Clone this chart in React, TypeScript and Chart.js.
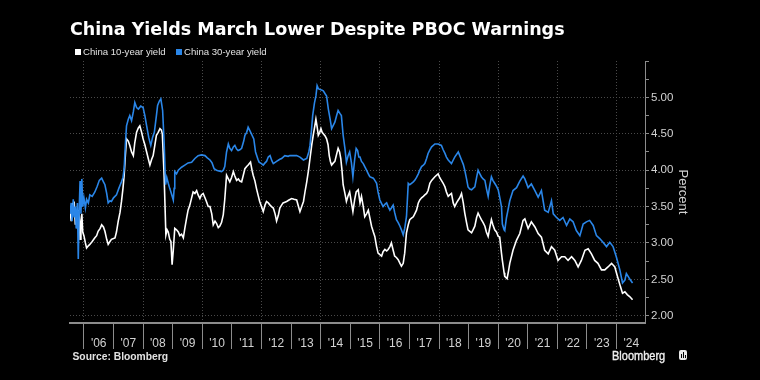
import React, { useEffect, useRef } from "react";
import { Chart, registerables } from "chart.js";

Chart.register(...registerables);

const TITLE = "China Yields March Lower Despite PBOC Warnings";
const SERIES_NAMES = ["China 10-year yield", "China 30-year yield"];
const SOURCE = "Source: Bloomberg";
const Y_AXIS_TITLE = "Percent";

const YEAR_TICKS = [2006, 2007, 2008, 2009, 2010, 2011, 2012, 2013, 2014, 2015, 2016, 2017, 2018, 2019, 2020, 2021, 2022, 2023, 2024];
const Y_TICKS = [2.0, 2.25, 2.5, 2.75, 3.0, 3.25, 3.5, 3.75, 4.0, 4.25, 4.5, 4.75, 5.0, 5.25, 5.5];
const Y_LABELED = [2.0, 2.5, 3.0, 3.5, 4.0, 4.5, 5.0];

const TEN_YEAR_DATES = [
  2005.53, 2005.57, 2005.60, 2005.64, 2005.67, 2005.71, 2005.74, 2005.78, 2005.81, 2005.84, 2005.87, 2005.90, 2005.93, 2005.96,
  2006.00, 2006.05, 2006.09, 2006.15, 2006.20, 2006.28, 2006.37, 2006.43, 2006.48, 2006.55, 2006.60, 2006.66, 2006.71, 2006.77, 2006.82, 2006.88, 2006.93,
  2007.00, 2007.05, 2007.10, 2007.16, 2007.22, 2007.27, 2007.32, 2007.36, 2007.40, 2007.44, 2007.50, 2007.55, 2007.61, 2007.67, 2007.72, 2007.78, 2007.84, 2007.89, 2007.95,
  2008.00, 2008.06, 2008.12, 2008.18, 2008.23, 2008.29, 2008.34, 2008.40, 2008.45, 2008.51, 2008.57, 2008.62, 2008.65, 2008.71, 2008.77, 2008.81, 2008.85, 2008.90, 2008.94, 2008.98,
  2009.02, 2009.07, 2009.13, 2009.19, 2009.24, 2009.30, 2009.36, 2009.41, 2009.47, 2009.52, 2009.58, 2009.64, 2009.69, 2009.75, 2009.81, 2009.86, 2009.92, 2009.97,
  2010.03, 2010.09, 2010.14, 2010.20, 2010.26, 2010.32, 2010.37, 2010.43, 2010.48, 2010.54, 2010.59, 2010.65, 2010.71, 2010.76, 2010.82, 2010.88, 2010.93, 2010.99,
  2011.05, 2011.10, 2011.16, 2011.22, 2011.27, 2011.33, 2011.38, 2011.44, 2011.50, 2011.55, 2011.63, 2011.68, 2011.72, 2011.78, 2011.83, 2011.89, 2011.94,
  2012.00, 2012.06, 2012.12, 2012.17, 2012.23, 2012.29, 2012.34, 2012.40, 2012.46, 2012.51, 2012.57, 2012.62, 2012.68, 2012.73, 2012.79, 2012.85, 2012.93,
  2013.02, 2013.10, 2013.19, 2013.25, 2013.30, 2013.36, 2013.42, 2013.47, 2013.53, 2013.59, 2013.64, 2013.70, 2013.75, 2013.80, 2013.84, 2013.88, 2013.92, 2013.97,
  2014.01, 2014.05, 2014.09, 2014.15, 2014.20, 2014.25, 2014.29, 2014.33, 2014.37, 2014.43, 2014.48, 2014.54, 2014.59, 2014.64, 2014.68, 2014.72, 2014.76, 2014.82, 2014.87, 2014.93, 2014.98,
  2015.04, 2015.09, 2015.15, 2015.20, 2015.27, 2015.33, 2015.38, 2015.44, 2015.49, 2015.55, 2015.61, 2015.66, 2015.72, 2015.78, 2015.83, 2015.89, 2015.94,
  2016.00, 2016.06, 2016.11, 2016.17, 2016.23, 2016.28, 2016.34, 2016.39, 2016.45, 2016.50, 2016.56, 2016.62, 2016.68, 2016.73, 2016.79, 2016.84, 2016.90, 2016.96,
  2017.01, 2017.07, 2017.13, 2017.18, 2017.24, 2017.30, 2017.35, 2017.41, 2017.47, 2017.52, 2017.58, 2017.63, 2017.69, 2017.75, 2017.86, 2017.97,
  2018.02, 2018.08, 2018.14, 2018.20, 2018.25, 2018.31, 2018.36, 2018.42, 2018.48, 2018.53, 2018.59, 2018.65, 2018.70, 2018.76, 2018.82, 2018.87, 2018.93, 2018.98,
  2019.04, 2019.10, 2019.15, 2019.21, 2019.27, 2019.32, 2019.38, 2019.43, 2019.49, 2019.55, 2019.60, 2019.66, 2019.71, 2019.77, 2019.82, 2019.88, 2019.94,
  2020.00, 2020.05, 2020.11, 2020.14, 2020.20, 2020.22, 2020.30, 2020.35, 2020.39, 2020.50, 2020.62, 2020.73, 2020.84, 2020.90,
  2021.01, 2021.12, 2021.24, 2021.35, 2021.46, 2021.57, 2021.69, 2021.80, 2021.91,
  2022.02, 2022.14, 2022.25, 2022.36, 2022.48, 2022.59, 2022.70, 2022.81, 2022.93,
  2023.04, 2023.15, 2023.26, 2023.37, 2023.49, 2023.60, 2023.71, 2023.83, 2023.94,
  2024.03, 2024.13, 2024.20, 2024.28, 2024.36, 2024.45, 2024.54,
];
const TEN_YEAR_VALUES = [
  3.45, 3.30, 3.55, 3.40, 3.57, 3.25, 3.35, 3.20, 3.45, 3.35, 3.05, 3.30, 3.40, 3.15,
  3.10, 3.00, 2.93, 2.96, 2.98, 3.02, 3.07, 3.10, 3.16, 3.20, 3.25, 3.22, 3.16, 3.05, 2.98, 3.02, 3.05,
  3.06, 3.07, 3.15, 3.30, 3.42, 3.57, 3.75, 3.93, 4.20, 4.43, 4.40, 4.34, 4.25, 4.20, 4.38, 4.52, 4.58, 4.61, 4.52,
  4.43, 4.35, 4.25, 4.15, 4.07, 4.15, 4.20, 4.35, 4.48, 4.52, 4.57, 4.55, 4.50, 3.93, 3.11, 3.18, 3.15, 3.05, 3.02, 2.70,
  2.90, 3.20, 3.18, 3.15, 3.10, 3.12, 3.07, 3.20, 3.34, 3.45, 3.52, 3.62, 3.70, 3.68, 3.72, 3.66, 3.61, 3.66,
  3.68, 3.62, 3.57, 3.50, 3.50, 3.40, 3.25, 3.30, 3.27, 3.21, 3.23, 3.28, 3.39, 3.60, 3.93, 3.88, 3.84, 3.90,
  3.98, 3.92, 3.86, 3.88, 3.85, 3.84, 3.92, 4.02, 4.05, 4.07, 4.11, 4.00, 3.93, 3.85, 3.75, 3.65, 3.57,
  3.50, 3.43, 3.52, 3.57, 3.55, 3.52, 3.50, 3.48, 3.40, 3.30, 3.38, 3.48, 3.52, 3.55, 3.56, 3.57, 3.59,
  3.61, 3.60, 3.59, 3.50, 3.43, 3.50, 3.57, 3.70, 3.84, 4.00, 4.16, 4.35, 4.48, 4.60, 4.70, 4.60, 4.48, 4.52,
  4.57, 4.52, 4.50, 4.47, 4.43, 4.35, 4.20, 4.12, 4.07, 4.10, 4.12, 4.22, 4.30, 4.25, 4.16, 4.00, 3.80, 3.68, 3.57, 3.65, 3.70,
  3.55, 3.43, 3.60, 3.70, 3.73, 3.55, 3.64, 3.50, 3.36, 3.40, 3.45, 3.35, 3.23, 3.15, 3.09, 2.95, 2.86,
  2.84, 2.82, 2.88, 2.91, 2.89, 2.91, 2.95, 3.00, 2.90, 2.82, 2.80, 2.77, 2.72, 2.68, 2.72, 2.86, 3.14, 3.25,
  3.32, 3.34, 3.36, 3.40, 3.45, 3.55, 3.59, 3.62, 3.64, 3.66, 3.68, 3.72, 3.82, 3.86, 3.91, 3.95,
  3.90, 3.86, 3.82, 3.77, 3.70, 3.64, 3.66, 3.68, 3.55, 3.50, 3.55, 3.59, 3.62, 3.68, 3.55, 3.41, 3.28, 3.18,
  3.16, 3.14, 3.18, 3.23, 3.35, 3.41, 3.36, 3.32, 3.28, 3.23, 3.15, 3.09, 3.20, 3.32, 3.25, 3.18, 3.15,
  3.09, 3.08, 2.86, 2.76, 2.59, 2.54, 2.51, 2.62, 2.72, 2.90, 3.04, 3.13, 3.31, 3.33,
  3.20, 3.29, 3.22, 3.13, 3.08, 2.90, 2.85, 2.95, 2.90,
  2.76, 2.81, 2.81, 2.76, 2.81, 2.76, 2.67, 2.76, 2.90,
  2.92, 2.85, 2.76, 2.72, 2.63, 2.63, 2.67, 2.72, 2.67,
  2.54, 2.40, 2.31, 2.33, 2.29, 2.26, 2.22,
];

const THIRTY_YEAR_DATES = [
  2005.53, 2005.57, 2005.60, 2005.64, 2005.67, 2005.71, 2005.74, 2005.78, 2005.81, 2005.84, 2005.87, 2005.90, 2005.93, 2005.96,
  2006.00, 2006.05, 2006.09, 2006.15, 2006.20, 2006.28, 2006.37, 2006.45, 2006.52, 2006.60, 2006.66, 2006.71, 2006.77, 2006.82, 2006.88, 2006.93,
  2007.00, 2007.10, 2007.18, 2007.27, 2007.32, 2007.36, 2007.40, 2007.44, 2007.50, 2007.55, 2007.61, 2007.67, 2007.72, 2007.78, 2007.84, 2007.92,
  2008.00, 2008.06, 2008.12, 2008.19, 2008.26, 2008.32, 2008.38, 2008.45, 2008.49, 2008.55, 2008.60, 2008.63, 2008.66, 2008.71, 2008.76, 2008.80, 2008.85, 2008.90, 2008.94,
  2009.02, 2009.05, 2009.07, 2009.13, 2009.19, 2009.30, 2009.41, 2009.52, 2009.64, 2009.75, 2009.86, 2009.97,
  2010.09, 2010.17, 2010.26, 2010.33, 2010.40, 2010.48, 2010.56, 2010.65, 2010.71, 2010.76, 2010.82, 2010.88, 2010.93, 2010.99,
  2011.05, 2011.10, 2011.16, 2011.21, 2011.27, 2011.33, 2011.40, 2011.44, 2011.50, 2011.55, 2011.60, 2011.66, 2011.74, 2011.80, 2011.88, 2011.92,
  2012.00, 2012.06, 2012.12, 2012.17, 2012.23, 2012.29, 2012.35, 2012.40, 2012.51, 2012.62, 2012.68, 2012.79, 2012.90, 2012.96,
  2013.07, 2013.19, 2013.30, 2013.42, 2013.47, 2013.53, 2013.60, 2013.64, 2013.69, 2013.73, 2013.79, 2013.84, 2013.88, 2013.92, 2013.97,
  2014.03, 2014.09, 2014.15, 2014.20, 2014.26, 2014.32, 2014.37, 2014.43, 2014.48, 2014.54, 2014.59, 2014.65, 2014.70, 2014.76, 2014.82, 2014.87, 2014.93, 2014.98,
  2015.04, 2015.09, 2015.15, 2015.20, 2015.25, 2015.29, 2015.33, 2015.38, 2015.44, 2015.49, 2015.55, 2015.61, 2015.66, 2015.72, 2015.78, 2015.83, 2015.89, 2015.94,
  2016.00, 2016.06, 2016.11, 2016.17, 2016.23, 2016.28, 2016.34, 2016.39, 2016.45, 2016.50, 2016.56, 2016.62, 2016.68, 2016.73, 2016.79, 2016.84, 2016.90, 2016.96,
  2017.01, 2017.07, 2017.13, 2017.18, 2017.24, 2017.30, 2017.35, 2017.41, 2017.47, 2017.52, 2017.58, 2017.63, 2017.69, 2017.75, 2017.86, 2017.97,
  2018.08, 2018.14, 2018.20, 2018.25, 2018.31, 2018.42, 2018.48, 2018.53, 2018.65, 2018.70, 2018.76, 2018.82, 2018.87, 2018.93, 2018.98,
  2019.04, 2019.10, 2019.15, 2019.21, 2019.27, 2019.32, 2019.38, 2019.43, 2019.49, 2019.55, 2019.60, 2019.66, 2019.71, 2019.77, 2019.82, 2019.88, 2019.94,
  2020.00, 2020.05, 2020.11, 2020.14, 2020.20, 2020.22, 2020.28, 2020.33, 2020.39, 2020.50, 2020.62, 2020.73, 2020.84, 2020.90,
  2021.01, 2021.12, 2021.24, 2021.35, 2021.46, 2021.57, 2021.69, 2021.80, 2021.86, 2021.97,
  2022.08, 2022.19, 2022.31, 2022.42, 2022.53, 2022.64, 2022.76, 2022.87, 2022.98,
  2023.09, 2023.21, 2023.32, 2023.43, 2023.54, 2023.66, 2023.77, 2023.88, 2023.99,
  2024.11, 2024.20, 2024.28, 2024.33, 2024.39, 2024.45, 2024.54,
];
const THIRTY_YEAR_VALUES = [
  3.40, 3.55, 3.30, 3.60, 3.35, 3.50, 3.20, 3.55, 2.78, 3.45, 3.85, 3.40, 3.88, 3.50,
  3.62, 3.48, 3.60, 3.55, 3.66, 3.64, 3.70, 3.78, 3.86, 3.89, 3.84, 3.80, 3.68, 3.55, 3.58, 3.57,
  3.62, 3.66, 3.75, 3.84, 3.90, 4.02, 4.35, 4.61, 4.70, 4.75, 4.68, 4.80, 4.93, 4.86, 4.84, 4.88,
  4.86, 4.75, 4.61, 4.45, 4.34, 4.45, 4.52, 4.75, 4.89, 4.95, 4.98, 4.90, 4.82, 4.39, 3.80, 3.90, 3.82, 3.75, 3.70,
  3.59, 3.75, 3.98, 3.95, 4.00, 4.04, 4.07, 4.10, 4.11, 4.16, 4.20, 4.21,
  4.20, 4.17, 4.14, 4.10, 4.02, 4.00, 3.99, 3.98, 4.00, 4.05, 4.25, 4.36, 4.30, 4.27,
  4.32, 4.34, 4.29, 4.27, 4.28, 4.30, 4.40, 4.48, 4.52, 4.59, 4.55, 4.50, 4.43, 4.25, 4.15, 4.11,
  4.09, 4.07, 4.10, 4.12, 4.18, 4.20, 4.13, 4.09, 4.12, 4.15, 4.16, 4.20, 4.19, 4.20,
  4.20, 4.20, 4.18, 4.14, 4.15, 4.16, 4.25, 4.34, 4.55, 4.75, 4.92, 5.02, 5.16, 5.12, 5.11,
  5.10, 5.09, 5.05, 5.02, 4.84, 4.70, 4.57, 4.62, 4.66, 4.75, 4.82, 4.78, 4.75, 4.48, 4.30, 4.11, 4.20, 4.25,
  4.10, 3.91, 4.15, 4.30, 4.27, 4.18, 4.18, 4.12, 4.09, 4.05, 4.00, 3.95, 3.91, 3.90, 3.89, 3.86, 3.82, 3.70,
  3.59, 3.54, 3.50, 3.53, 3.55, 3.50, 3.45, 3.48, 3.52, 3.42, 3.32, 3.28, 3.23, 3.18, 3.11, 3.20, 3.36, 3.82,
  3.80, 3.82, 3.84, 3.86, 3.90, 3.95, 4.00, 4.05, 4.07, 4.09, 4.16, 4.23, 4.28, 4.32, 4.36, 4.36,
  4.34, 4.28, 4.23, 4.18, 4.14, 4.09, 4.14, 4.18, 4.25, 4.20, 4.14, 4.08, 4.00, 3.88, 3.77,
  3.74, 3.73, 3.75, 3.77, 3.90, 4.00, 3.95, 3.91, 3.88, 3.86, 3.75, 3.64, 3.78, 3.91, 3.86, 3.82, 3.78,
  3.73, 3.63, 3.50, 3.26, 3.18, 3.17, 3.35, 3.45, 3.58, 3.72, 3.76, 3.85, 3.92, 3.88,
  3.76, 3.81, 3.72, 3.63, 3.72, 3.45, 3.42, 3.58, 3.40, 3.35,
  3.31, 3.35, 3.24, 3.33, 3.29, 3.17, 3.10, 3.26, 3.29,
  3.31, 3.24, 3.10, 3.06, 3.01, 2.95, 3.01, 2.95, 2.81,
  2.63, 2.45, 2.49, 2.58, 2.54, 2.50, 2.45,
];

const WHITE = "#ffffff";
const BLUE = "#2a86e8";
const GRID = "#4a4a4a";
const AXIS = "#8c8c8c";
const LABEL = "#d2d2d2";

function toPoints(xs: number[], ys: number[]) {
  return xs.map((x, i) => ({ x, y: ys[i] }));
}

export default function App() {
  const canvasRef = useRef<HTMLCanvasElement | null>(null);

  useEffect(() => {
    const canvas = canvasRef.current;
    if (!canvas) return;
    Chart.defaults.font.family = "'Liberation Sans', Arial, sans-serif";
    const chart = new Chart(canvas, {
      type: "line",
      data: {
        datasets: [
          {
            label: SERIES_NAMES[0],
            data: toPoints(TEN_YEAR_DATES, TEN_YEAR_VALUES),
            borderColor: WHITE,
            borderWidth: 1.6,
            pointRadius: 0,
            tension: 0,
            order: 1,
          },
          {
            label: SERIES_NAMES[1],
            data: toPoints(THIRTY_YEAR_DATES, THIRTY_YEAR_VALUES),
            borderColor: BLUE,
            borderWidth: 1.6,
            pointRadius: 0,
            tension: 0,
            order: 0,
          },
        ],
      },
      options: {
        animation: false,
        responsive: false,
        devicePixelRatio: 1,
        layout: { padding: { left: 70, top: 61, right: 65, bottom: 27 } },
        plugins: { legend: { display: false }, tooltip: { enabled: false }, title: { display: false } },
        scales: {
          x: {
            type: "linear",
            min: 2005.53,
            max: 2024.96,
            afterBuildTicks: (scale: any) => {
              scale.ticks = YEAR_TICKS.map((v) => ({ value: v }));
            },
            afterFit: (scale: any) => {
              scale.height = 30;
            },
            grid: {
              color: (ctx: any) => (ctx.tick && ctx.tick.value % 2 === 0 ? GRID : "rgba(0,0,0,0)"),
              lineWidth: 1,
              tickColor: AXIS,
              tickLength: 26,
              tickWidth: 1,
            },
            border: { display: true, color: AXIS, width: 2, dash: [1, 2] },
            ticks: {
              autoSkip: false,
              maxRotation: 0,
              labelOffset: 14.8,
              padding: -13,
              color: LABEL,
              font: { size: 12 },
              callback: (v: any) => "'" + String(v).slice(2),
            },
          },
          y: {
            type: "linear",
            position: "right",
            min: 1.9,
            max: 5.5,
            afterBuildTicks: (scale: any) => {
              scale.ticks = Y_TICKS.map((v) => ({ value: v }));
            },
            afterFit: (scale: any) => {
              scale.width = 50;
            },
            grid: {
              color: (ctx: any) => (ctx.tick && Y_LABELED.includes(ctx.tick.value) ? GRID : "rgba(0,0,0,0)"),
              lineWidth: 1,
              tickColor: AXIS,
              tickLength: 4,
              tickWidth: 1,
            },
            border: { display: true, color: AXIS, width: 1, dash: [1, 2] },
            ticks: {
              autoSkip: false,
              padding: 2,
              color: LABEL,
              font: { size: 11.5 },
              callback: (v: any) => (Y_LABELED.includes(Number(v)) ? Number(v).toFixed(2) : ""),
            },
            title: {
              display: true,
              text: Y_AXIS_TITLE,
              color: LABEL,
              font: { size: 13 },
              padding: { top: 5, bottom: 0 },
            },
          },
        },
      },
    } as any);
    return () => chart.destroy();
  }, []);

  const sq = (color: string, left: number) => (
    <div style={{ position: "absolute", left, top: 49, width: 6, height: 6, background: color }} />
  );

  return (
    <div
      style={{
        position: "fixed",
        left: 0,
        top: 0,
        width: 760,
        height: 380,
        background: "#000",
        overflow: "hidden",
      }}
    >
      <canvas ref={canvasRef} width={760} height={380} style={{ position: "absolute", left: 0, top: 0, width: 760, height: 380 }} />
      <div
        style={{
          position: "absolute",
          left: 70,
          top: 19,
          fontFamily: "'DejaVu Sans', sans-serif",
          fontWeight: "bold",
          fontSize: 17.5,
          lineHeight: "20px",
          color: "#fff",
          whiteSpace: "nowrap",
        }}
      >
        {TITLE}
      </div>
      {sq(WHITE, 75)}
      <div style={{ position: "absolute", left: 83, top: 46.4, fontFamily: "'Liberation Sans', Arial, sans-serif", fontSize: 9.6, lineHeight: "12px", color: "#e2e2e2", whiteSpace: "nowrap" }}>
        {SERIES_NAMES[0]}
      </div>
      {sq(BLUE, 176)}
      <div style={{ position: "absolute", left: 184, top: 46.4, fontFamily: "'Liberation Sans', Arial, sans-serif", fontSize: 9.6, lineHeight: "12px", color: "#e2e2e2", whiteSpace: "nowrap" }}>
        {SERIES_NAMES[1]}
      </div>
      <div style={{ position: "absolute", left: 72.5, top: 351, fontFamily: "'Liberation Sans', Arial, sans-serif", fontWeight: "bold", fontSize: 10.3, lineHeight: "12px", color: "#e2e2e2", whiteSpace: "nowrap" }}>
        {SOURCE}
      </div>
      <div
        style={{
          position: "absolute",
          left: 611.5,
          top: 348.7,
          fontFamily: "'Liberation Sans', Arial, sans-serif",
          fontWeight: "normal",
          fontSize: 12.5,
          lineHeight: "14px",
          color: "#f0f0f0",
          whiteSpace: "nowrap",
          transform: "scaleX(0.88)",
          transformOrigin: "0 0",
          WebkitTextStroke: "0.35px #f0f0f0",
        }}
      >
        Bloomberg
      </div>
      <div style={{ position: "absolute", left: 679, top: 350, width: 8, height: 10, background: "#e8e8e8", borderRadius: 2 }}>
        <div style={{ position: "absolute", left: 1.5, top: 4, width: 1, height: 4, background: "#000" }} />
        <div style={{ position: "absolute", left: 3.5, top: 2, width: 1, height: 6, background: "#000" }} />
        <div style={{ position: "absolute", left: 5.5, top: 5, width: 1, height: 3, background: "#000" }} />
      </div>
    </div>
  );
}
